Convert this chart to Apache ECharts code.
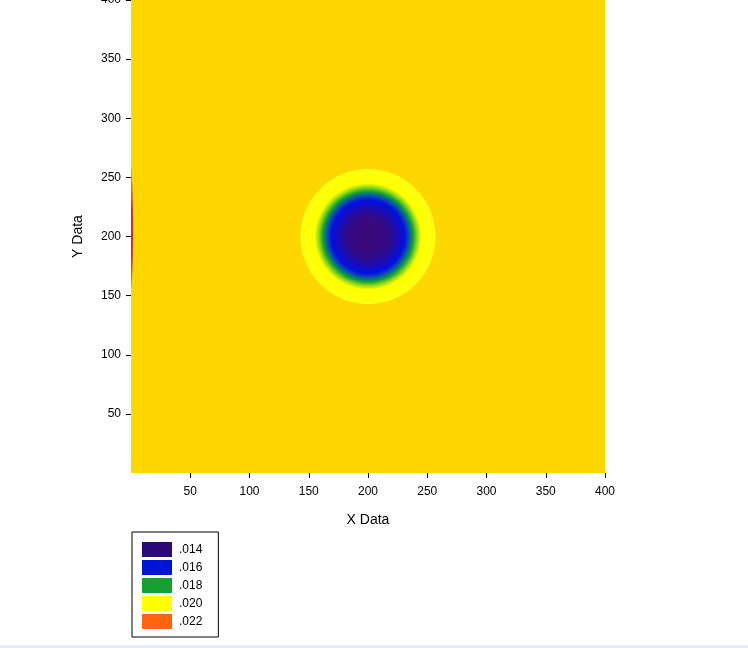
<!DOCTYPE html>
<html>
<head>
<meta charset="utf-8">
<style>
  html, body { margin: 0; padding: 0; background: #fff; }
  #chart { width: 748px; height: 648px; }
</style>
<script src="https://cdn.jsdelivr.net/npm/echarts@6/dist/echarts.min.js"></script>
</head>
<body>
<div id="chart"></div>
<script>
// axis ticks
const tickValues = [50, 100, 150, 200, 250, 300, 350, 400]

// contour legend levels
const levels = ['.014', '.016', '.018', '.020', '.022']
const levelColors = ['#2b0b78', '#0014d8', '#12a032', '#ffff00', '#ff6410']

// well in the middle of the field: [x, y, outer radius]
const wellCenter = [200, 200, 57]
// radial colour profile of the well (radius in data units)
const wellRadii = [0, 12, 19, 25, 31, 35, 38, 41.5, 45, 57]
const wellColors = ['#3a0878', '#380a80', '#2e0c8c', '#1a0cb6', '#0010e4', '#0a5ca0', '#12a032', '#8cd818', '#ffff00', '#ffff10']

// thin high-value strip on the left edge: [x, y, half width, half height]
const edgeStrip = [0, 207, 1.7, 51]

const chart = echarts.init(document.getElementById('chart'))

const axisText = { color: '#000', fontSize: 12, fontFamily: 'Liberation Sans, Arial, sans-serif' }

const option = {
  animation: false,
  grid: {
    left: 131, top: 0, width: 474, height: 473,
    outerBoundsMode: 'none', containLabel: false,
    show: true, backgroundColor: '#ffd700', borderWidth: 0
  },
  xAxis: {
    type: 'value', min: 0, max: 400, interval: 50,
    name: 'X Data', nameLocation: 'middle', nameGap: 40,
    nameTextStyle: { ...axisText, fontSize: 14 },
    axisLine: { show: false },
    axisTick: { show: true, length: 5, lineStyle: { color: '#000' }, customValues: tickValues },
    axisLabel: { ...axisText, margin: 13, customValues: tickValues },
    splitLine: { show: false }
  },
  yAxis: {
    type: 'value', min: 0, max: 400, interval: 50,
    name: 'Y Data', nameLocation: 'middle', nameGap: 46, nameRotate: 90,
    nameTextStyle: { ...axisText, fontSize: 14 },
    axisLine: { show: false },
    axisTick: { show: true, length: 5, lineStyle: { color: '#000' }, customValues: tickValues },
    axisLabel: { ...axisText, margin: 10, customValues: tickValues },
    splitLine: { show: false }
  },
  legend: {
    orient: 'vertical', left: 132, top: 532,
    data: levels,
    icon: 'rect', itemWidth: 30, itemHeight: 15, itemGap: 3,
    padding: [10, 16, 8, 10],
    borderColor: '#000', borderWidth: 1, backgroundColor: '#fff',
    textStyle: { ...axisText, padding: [3, 0, 0, 2] },
    selectedMode: false
  },
  graphic: [
    { type: 'rect', left: 0, top: 645, shape: { width: 748, height: 3 }, style: { fill: '#e2ecf4' } }
  ],
  series: [
    {
      type: 'custom', name: 'edge', clip: true, silent: true,
      data: [edgeStrip],
      renderItem: (params, api) => {
        const c = api.coord([api.value(0), api.value(1)])
        const s = api.size([api.value(2), api.value(3)])
        return {
          type: 'ellipse',
          shape: { cx: c[0], cy: c[1], rx: s[0], ry: s[1] },
          style: {
            fill: {
              type: 'linear', x: 0, y: 0, x2: 0, y2: 1,
              colorStops: [
                { offset: 0, color: '#ffa010' },
                { offset: 0.35, color: '#e02a1c' },
                { offset: 0.75, color: '#e02a1c' },
                { offset: 1, color: '#ffa010' }
              ]
            }
          }
        }
      }
    },
    {
      type: 'custom', name: 'well', clip: true, silent: true,
      data: [wellCenter],
      renderItem: (params, api) => {
        const c = api.coord([api.value(0), api.value(1)])
        const outer = api.value(2)
        const s = api.size([outer, outer])
        return {
          type: 'circle',
          shape: { cx: c[0], cy: c[1], r: s[0] },
          style: {
            fill: {
              type: 'radial', x: 0.5, y: 0.5, r: 0.5,
              colorStops: wellRadii.map((r, i) => ({ offset: r / outer, color: wellColors[i] }))
            }
          }
        }
      }
    },
    ...levels.map((name, i) => ({
      type: 'scatter', name, data: [],
      itemStyle: { color: levelColors[i], opacity: 1 }
    }))
  ]
}

chart.setOption(option)
</script>
</body>
</html>
